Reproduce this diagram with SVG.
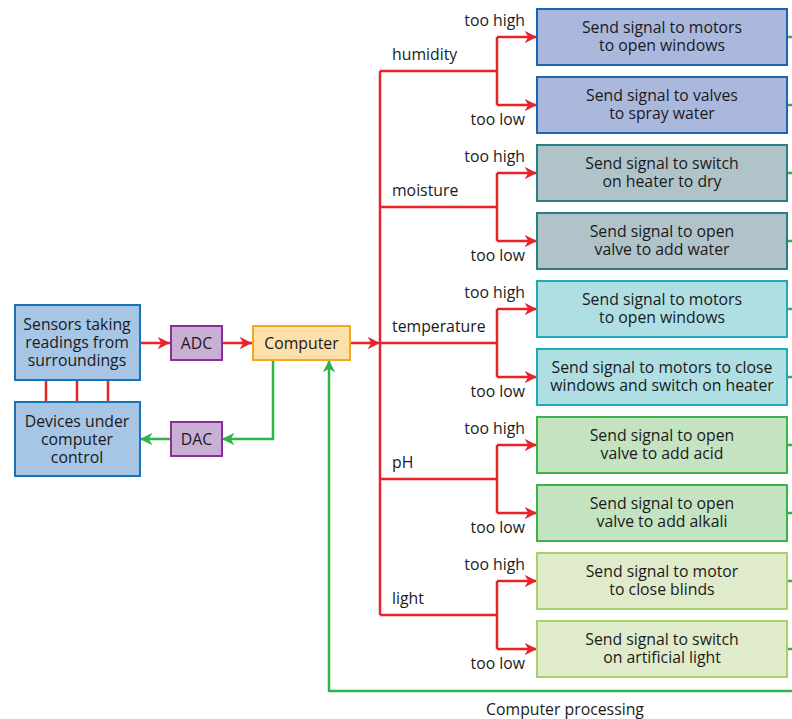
<svg xmlns="http://www.w3.org/2000/svg" width="792" height="719" viewBox="0 0 792 719">
<style>
text{font-family:"Open Sans","Noto Sans","Liberation Sans",sans-serif;font-size:15.8px;fill:#1a1a1a}
.c{text-anchor:middle}
.r{text-anchor:end}
.red{stroke:#e8242b;stroke-width:2.5;fill:none}
.grn{stroke:#2db34a;stroke-width:2.5;fill:none}
.box{stroke-width:2}
</style>
<defs>
<marker id="ar" viewBox="0 0 10 10" refX="10" refY="5" markerWidth="5" markerHeight="5" orient="auto" markerUnits="strokeWidth"><path d="M0,0 L10,5 L0,10 L3,5 z" fill="#e8242b"/></marker>
<marker id="ag" viewBox="0 0 10 10" refX="10" refY="5" markerWidth="5" markerHeight="5" orient="auto" markerUnits="strokeWidth"><path d="M0,0 L10,5 L0,10 L3,5 z" fill="#2db34a"/></marker>
</defs>
<rect width="792" height="719" fill="#fff"/>
<g id="connectors">
<path class="red" d="M46,380V402M77,380V402M108,380V402"/>
<path class="red" d="M140,343H170" marker-end="url(#ar)"/>
<path class="red" d="M222,343H252" marker-end="url(#ar)"/>
<path class="red" d="M350,343H380" marker-end="url(#ar)"/>
<path class="red" d="M380,71V615"/>
<path class="red" d="M380,71H497M380,207H497M380,343H497M380,479H497M380,615H497"/>
<path class="red" d="M497,37V105M497,173V241M497,309V377M497,445V513M497,581V649"/>
<path class="red" d="M497,37H537" marker-end="url(#ar)"/>
<path class="red" d="M497,105H537" marker-end="url(#ar)"/>
<path class="red" d="M497,173H537" marker-end="url(#ar)"/>
<path class="red" d="M497,241H537" marker-end="url(#ar)"/>
<path class="red" d="M497,309H537" marker-end="url(#ar)"/>
<path class="red" d="M497,377H537" marker-end="url(#ar)"/>
<path class="red" d="M497,445H537" marker-end="url(#ar)"/>
<path class="red" d="M497,513H537" marker-end="url(#ar)"/>
<path class="red" d="M497,581H537" marker-end="url(#ar)"/>
<path class="red" d="M497,649H537" marker-end="url(#ar)"/>
<path class="grn" d="M273,360V439H222" marker-end="url(#ag)"/>
<path class="grn" d="M170,439H140" marker-end="url(#ag)"/>
<path class="grn" d="M792,691H329V360" marker-end="url(#ag)"/>
<path class="grn" d="M787,37H792M787,105H792M787,173H792M787,241H792M787,309H792M787,377H792M787,445H792M787,513H792M787,581H792M787,649H792"/>
</g>
<g id="labels">
<text x="392" y="60">humidity</text>
<text x="392" y="196">moisture</text>
<text x="392" y="332">temperature</text>
<text x="392" y="468">pH</text>
<text x="392" y="604">light</text>
<text class="r" x="525" y="26">too high</text><text class="r" x="525" y="125">too low</text>
<text class="r" x="525" y="162">too high</text><text class="r" x="525" y="261">too low</text>
<text class="r" x="525" y="298">too high</text><text class="r" x="525" y="397">too low</text>
<text class="r" x="525" y="434">too high</text><text class="r" x="525" y="533">too low</text>
<text class="r" x="525" y="570">too high</text><text class="r" x="525" y="669">too low</text>
<text class="c" x="565" y="715">Computer processing</text>
</g>
<g id="sensors"><rect class="box" x="15" y="305" width="125" height="75" fill="#a7c5e5" stroke="#1a72b8"/><text class="c" x="77" y="330">Sensors taking</text><text class="c" x="77" y="348">readings from</text><text class="c" x="77" y="366">surroundings</text></g>
<g id="devices"><rect class="box" x="15" y="402" width="125" height="74" fill="#a7c5e5" stroke="#1a72b8"/><text class="c" x="77" y="427">Devices under</text><text class="c" x="77" y="445">computer</text><text class="c" x="77" y="463">control</text></g>
<g id="adc"><rect class="box" x="171" y="326" width="51" height="34" fill="#c9aed6" stroke="#8b2f96"/><text class="c" x="196.5" y="348.5">ADC</text></g>
<g id="dac"><rect class="box" x="171" y="422" width="51" height="34" fill="#c9aed6" stroke="#8b2f96"/><text class="c" x="196.5" y="444.5">DAC</text></g>
<g id="computer"><rect class="box" x="253" y="326" width="97" height="34" fill="#fde0a8" stroke="#f5a623"/><text class="c" x="301.5" y="348.5">Computer</text></g>
<g id="h1"><rect class="box" x="537" y="9" width="250" height="56" fill="#abb8de" stroke="#1c64b0"/><text class="c" x="662" y="33">Send signal to motors</text><text class="c" x="662" y="51">to open windows</text></g>
<g id="h2"><rect class="box" x="537" y="77" width="250" height="56" fill="#abb8de" stroke="#1c64b0"/><text class="c" x="662" y="101">Send signal to valves</text><text class="c" x="662" y="119">to spray water</text></g>
<g id="m1"><rect class="box" x="537" y="145" width="250" height="56" fill="#afc3c9" stroke="#2a7f86"/><text class="c" x="662" y="169">Send signal to switch</text><text class="c" x="662" y="187">on heater to dry</text></g>
<g id="m2"><rect class="box" x="537" y="213" width="250" height="56" fill="#afc3c9" stroke="#2a7f86"/><text class="c" x="662" y="237">Send signal to open</text><text class="c" x="662" y="255">valve to add water</text></g>
<g id="t1"><rect class="box" x="537" y="281" width="250" height="56" fill="#afdfe2" stroke="#1eabb5"/><text class="c" x="662" y="305">Send signal to motors</text><text class="c" x="662" y="323">to open windows</text></g>
<g id="t2"><rect class="box" x="537" y="349" width="250" height="56" fill="#afdfe2" stroke="#1eabb5"/><text class="c" x="662" y="373">Send signal to motors to close</text><text class="c" x="662" y="391">windows and switch on heater</text></g>
<g id="p1"><rect class="box" x="537" y="417" width="250" height="56" fill="#c4e3c1" stroke="#3bb34a"/><text class="c" x="662" y="441">Send signal to open</text><text class="c" x="662" y="459">valve to add acid</text></g>
<g id="p2"><rect class="box" x="537" y="485" width="250" height="56" fill="#c4e3c1" stroke="#3bb34a"/><text class="c" x="662" y="509">Send signal to open</text><text class="c" x="662" y="527">valve to add alkali</text></g>
<g id="l1"><rect class="box" x="537" y="553" width="250" height="56" fill="#dfebca" stroke="#a7d16b"/><text class="c" x="662" y="577">Send signal to motor</text><text class="c" x="662" y="595">to close blinds</text></g>
<g id="l2"><rect class="box" x="537" y="621" width="250" height="56" fill="#dfebca" stroke="#a7d16b"/><text class="c" x="662" y="645">Send signal to switch</text><text class="c" x="662" y="663">on artificial light</text></g>
</svg>
